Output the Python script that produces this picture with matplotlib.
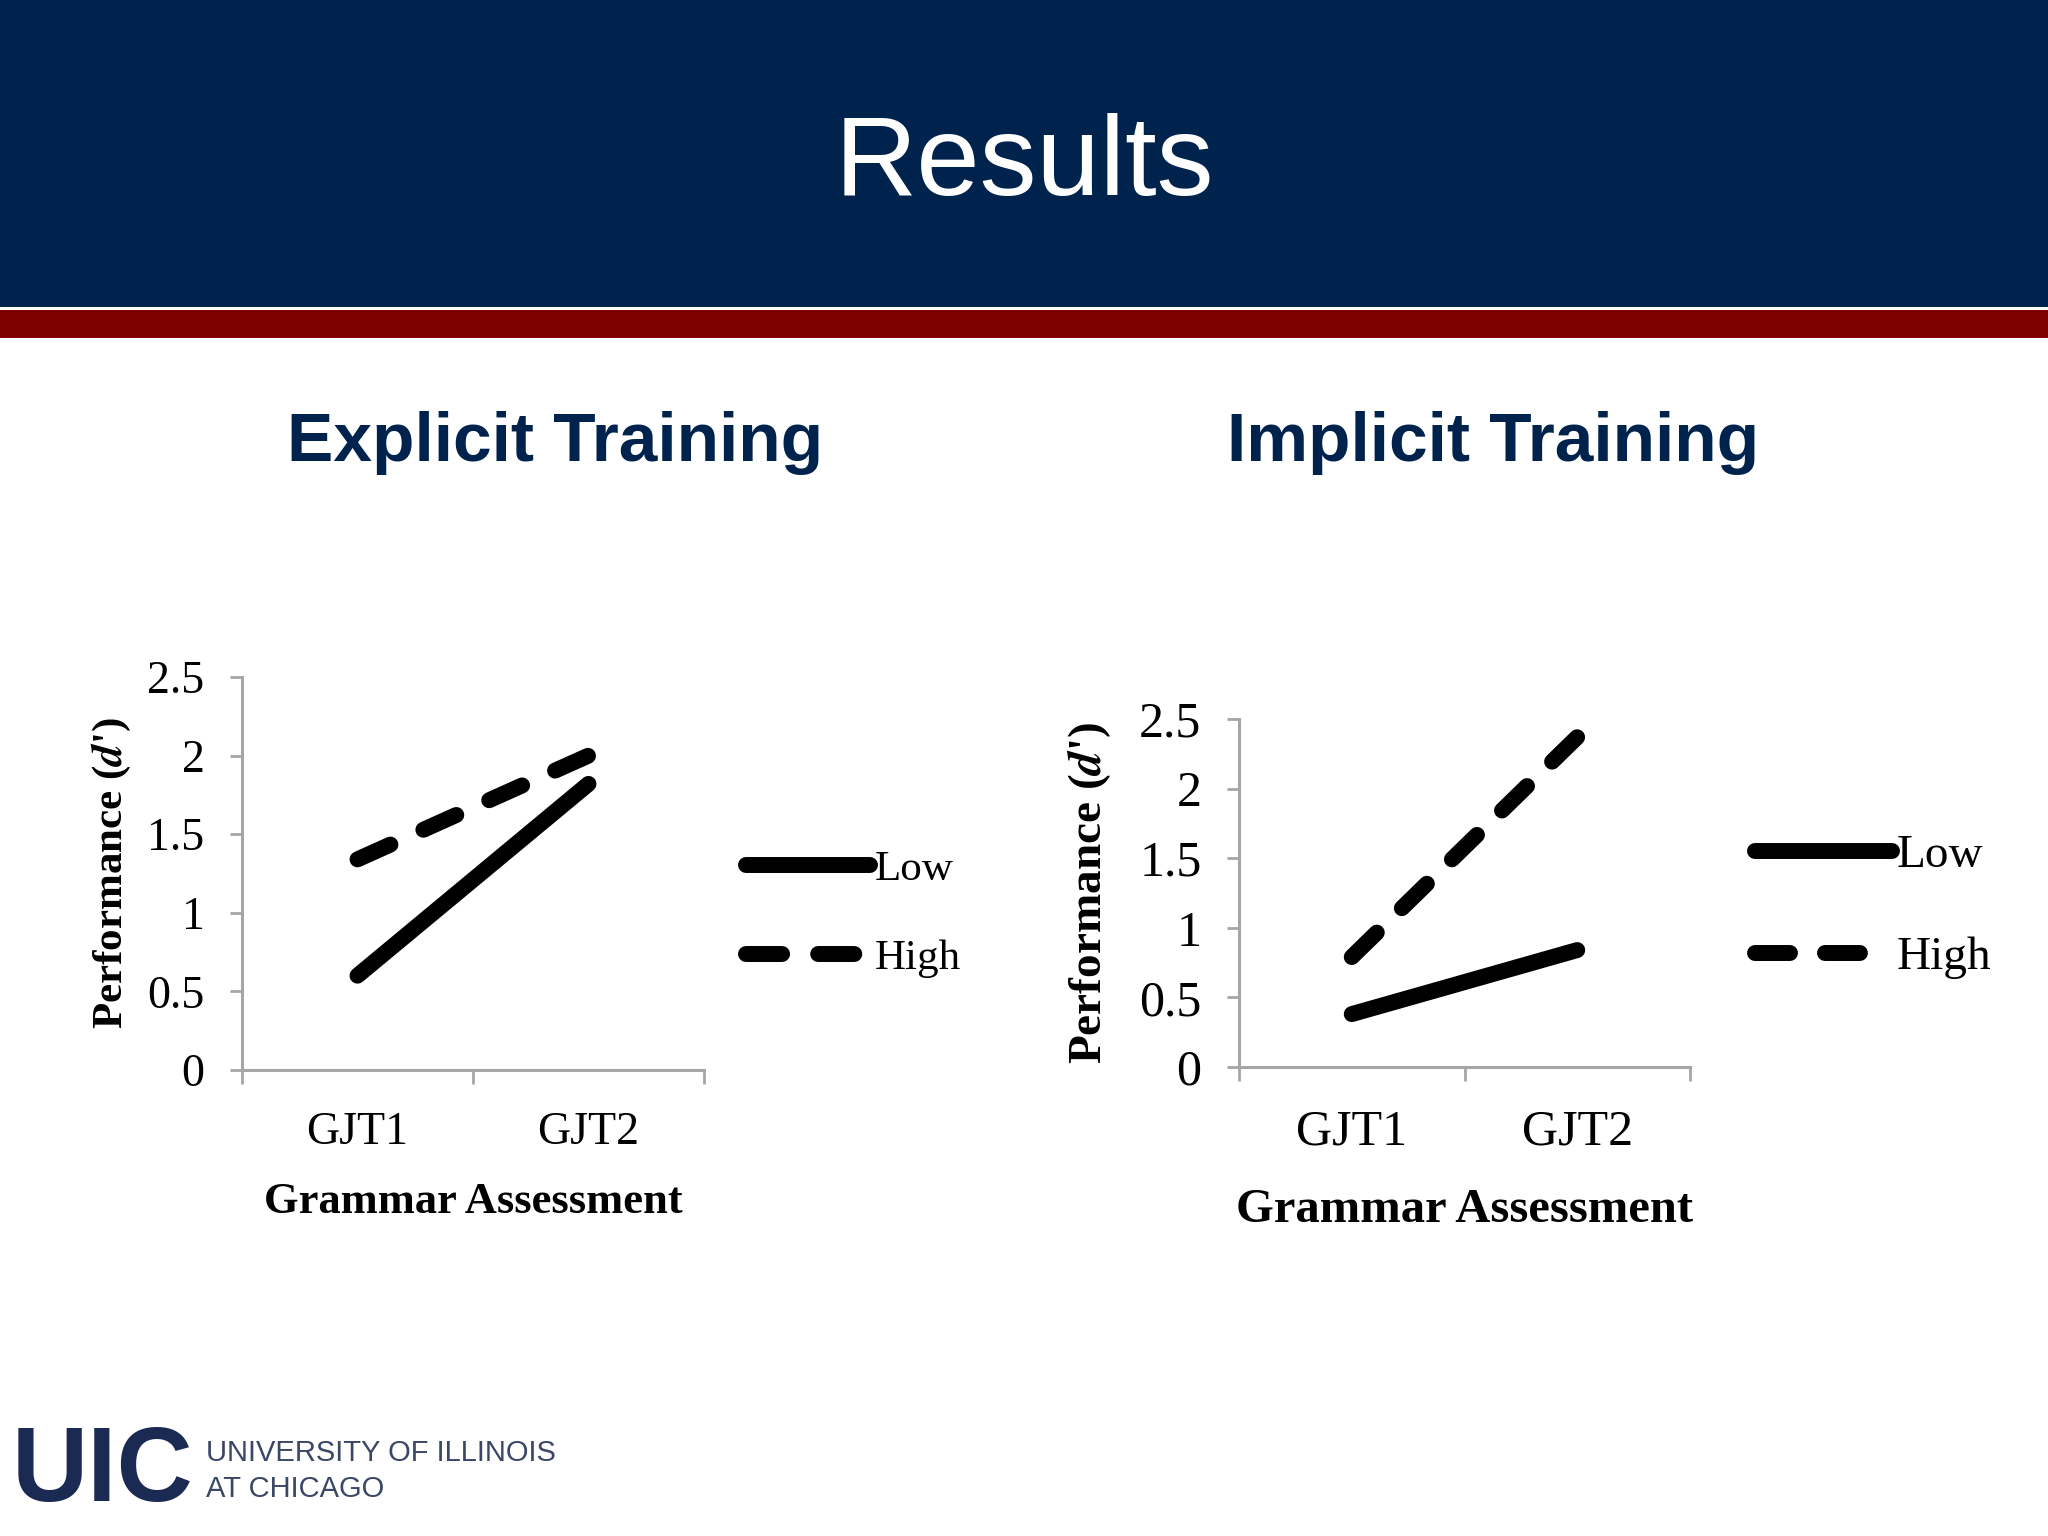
import matplotlib
matplotlib.use("Agg")
import matplotlib.pyplot as plt
from matplotlib.patches import Rectangle

# donnees
categories = ["GJT1", "GJT2"]
explicit_low = [0.6, 1.82]
explicit_high = [1.34, 2.0]
implicit_low = [0.38, 0.84]
implicit_high = [0.79, 2.37]
yticks = [0, 0.5, 1, 1.5, 2, 2.5]
ytick_labels = ["0", "0.5", "1", "1.5", "2", "2.5"]

NAVY = "#00234e"
RED = "#800000"
GREY = "#a6a6a6"
W, H = 2048, 1536
SERIF = ["Liberation Serif", "DejaVu Serif"]
SANS = ["Liberation Sans", "DejaVu Sans"]
plt.rcParams["mathtext.fontset"] = "stix"


def fx(px):
    return px / W


def fy(py):
    return 1 - py / H


fig = plt.figure(figsize=(20.48, 15.36), dpi=100)
fig.patch.set_facecolor("white")

# bandeau du haut
fig.add_artist(Rectangle((0, fy(307)), 1, 307 / H, transform=fig.transFigure,
                         color=NAVY, lw=0))
fig.add_artist(Rectangle((0, fy(338)), 1, 28 / H, transform=fig.transFigure,
                         color=RED, lw=0))
fig.text(0.5, fy(166), "Results", ha="center", va="center", color="white",
         fontsize=82, family=SANS)

fig.text(fx(555), fy(443), "Explicit Training", ha="center", va="center",
         color=NAVY, fontsize=50, fontweight="bold", family=SANS)
fig.text(fx(1493), fy(443), "Implicit Training", ha="center", va="center",
         color=NAVY, fontsize=50, fontweight="bold", family=SANS)


def tracer(rect, low, high, fs, dash, leg_x, leg_y, leg_space, ylab_x, xlab_y):
    ax = fig.add_axes(rect)
    x = range(len(categories))
    ax.plot(x, low, color="black", lw=11.5, solid_capstyle="round", label="Low")
    ax.plot(x, high, color="black", lw=11.5, dash_capstyle="round",
            linestyle=(0, (dash, dash)), label="High")
    ax.set_xlim(-0.5, 1.5)
    ax.set_ylim(0, 2.5)
    ax.set_yticks(yticks)
    ax.set_yticklabels(ytick_labels, family=SERIF, fontsize=fs + 2)
    ax.set_xticks(list(x))
    ax.set_xticklabels(categories, family=SERIF, fontsize=fs + 2)
    ax.set_xticks([-0.5, 0.5, 1.5], minor=True)
    ax.tick_params(axis="x", which="major", length=0, pad=30)
    ax.tick_params(axis="x", which="minor", length=10, width=2, color=GREY,
                   direction="out")
    ax.tick_params(axis="y", length=9, width=2, color=GREY, direction="out", pad=18)
    for s in ["top", "right"]:
        ax.spines[s].set_visible(False)
    for s in ["left", "bottom"]:
        ax.spines[s].set_color(GREY)
        ax.spines[s].set_linewidth(2.2)
    ax.set_ylabel("Performance ($\\boldsymbol{d}$')",
                  family=SERIF, fontsize=fs, fontweight="bold")
    ax.yaxis.set_label_coords(ylab_x, 0.5)
    ax.set_xlabel("Grammar Assessment", family=SERIF, fontsize=fs + 1,
                  fontweight="bold")
    ax.xaxis.set_label_coords(0.5, xlab_y)
    ax.legend(loc="center left", bbox_to_anchor=(leg_x, leg_y),
              frameon=False, prop={"family": SERIF, "size": fs},
              handlelength=2.9, handletextpad=0.1, borderpad=0,
              borderaxespad=0, labelspacing=leg_space)
    return ax


# gauche : axe x 242-704, y 677-1070
tracer([fx(242), fy(1070), (704 - 242) / W, (1070 - 677) / H],
       explicit_low, explicit_high, 31, 2.26, 1.09, 0.397, 1.17, -0.237, -0.284)
# droite : axe x 1239-1690, y 719-1067
tracer([fx(1239), fy(1067), (1690 - 1239) / W, (1067 - 719) / H],
       implicit_low, implicit_high, 34, 2.19, 1.145, 0.46, 1.25, -0.28, -0.348)

# logo
fig.text(fx(12), fy(1474), "UIC", ha="left", va="center", color="#1b2a52",
         fontsize=76, fontweight="bold", family=SANS)
fig.text(fx(206), fy(1453), "UNIVERSITY OF ILLINOIS", ha="left", va="center",
         color="#3b4766", fontsize=21, family=SANS)
fig.text(fx(206), fy(1489), "AT CHICAGO", ha="left", va="center",
         color="#3b4766", fontsize=21, family=SANS)

fig.savefig("out.png", dpi=100)
